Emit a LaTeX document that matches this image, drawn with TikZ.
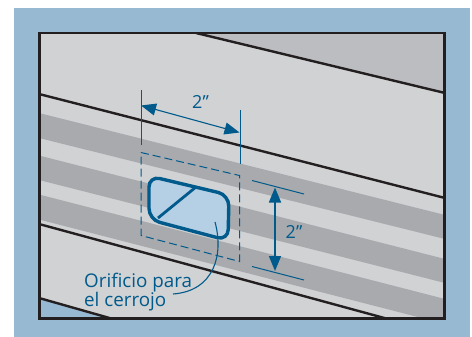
\documentclass[tikz,border=0pt]{standalone}
\usepackage{fontspec}
\setmainfont{Open Sans}
\usetikzlibrary{arrows.meta}
\definecolor{bgblue}{HTML}{98B9D2}
\definecolor{floorgray}{HTML}{D1D2D4}
\definecolor{upgray}{HTML}{BCBDC0}
\definecolor{bandgray}{HTML}{A9AAAD}
\definecolor{ink}{HTML}{231F20}
\definecolor{dimblue}{HTML}{005A8B}
\definecolor{holeblue}{HTML}{B5CFE5}
\tikzset{
  x=1pt,y=-1pt,
  beam/.style={draw=ink,line width=2.4pt},
  band/.style={fill=bandgray,draw=none},
  dimline/.style={draw=dimblue,line width=1pt},
  dimarrow/.style={draw=dimblue,line width=1.1pt,{Triangle[length=15pt,width=12pt]}-{Triangle[length=15pt,width=12pt]}},
  lbl/.style={text=dimblue,inner sep=0pt,font=\fontsize{18.8}{20}\selectfont,align=left},
  dimlbl/.style={text=dimblue,inner sep=0pt,font=\fontsize{18}{20}\selectfont},
}
\begin{document}
\begin{tikzpicture}
\useasboundingbox (0,0) rectangle (472,337);
\fill[white] (0,0) rectangle (472,337);
\fill[bgblue] (14,8) rectangle (470,337);
\fill[floorgray] (39.5,33) rectangle (444.5,318.5);
\begin{scope}
\clip (39.5,33) rectangle (444.5,318.5);
\fill[upgray] (196,33) -- (445,93) -- (445,33) -- cycle;
\fill[band] (39,113) -- (445,215) -- (445,239) -- (39,138) -- cycle;
\fill[band] (39,155.5) -- (445,259) -- (445,283) -- (39,180) -- cycle;
\fill[band] (39,194.5) -- (445,299) -- (445,324) -- (39,219.5) -- cycle;
\fill[floorgray] (39,224.5) -- (392,320) -- (39,320) -- cycle;
\fill[bgblue] (39,298) -- (113,319) -- (39,319) -- cycle;
\draw[beam] (196,33) -- (445,93);
\draw[beam] (39,94) -- (445,198);
\draw[beam] (39,224) -- (388,319);
\draw[beam] (39,298) -- (113,319);
\end{scope}
\draw[draw=ink,line width=2.6pt] (39.5,33) rectangle (444.5,318.5);
% dashed outline
\draw[dimblue,line width=1pt,dash pattern=on 8pt off 4pt] (141,152.5) -- (239.5,175.5) -- (239.5,261.5) -- (141,235.5) -- cycle;
% hole
\draw[fill=holeblue,draw=dimblue,line width=3.4pt,rounded corners=11pt] (149,176) -- (229,195) -- (228,240.5) -- (149,219.5) -- cycle;
\coordinate (diagA) at (158,218);
\coordinate (diagB) at (196,187);
\draw[dimblue,line width=2.8pt] (diagA) -- (diagB);
% left/right extension lines
\coordinate (extLa) at (141,90);
\coordinate (extLb) at (141,145);
\coordinate (extRa) at (240,110);
\coordinate (extRb) at (240,164);
\draw[dimline] (extLa) -- (extLb);
\draw[dimline] (extRa) -- (extRb);
\coordinate (arrL) at (141,105.5);
\coordinate (arrR) at (239.5,132.5);
\draw[dimarrow] (arrL) -- (arrR);
% right dimension
\coordinate (tickUa) at (252,180.5);
\coordinate (tickUb) at (304,194);
\coordinate (tickLa) at (252,266.5);
\coordinate (tickLb) at (304,280);
\draw[dimline] (tickUa) -- (tickUb);
\draw[dimline] (tickLa) -- (tickLb);
\coordinate (arrU) at (275,187.5);
\coordinate (arrD) at (275,271);
\draw[dimarrow,line width=1.6pt] (arrU) -- (arrD);
\node[dimlbl,anchor=base] (dimA) at (200.5,108.5) {2\char"22};
\node[dimlbl,anchor=base] (dimB) at (294,238.5) {2\char"22};
% label
\node[lbl,anchor=base west] (hole1) at (84,287) {Orificio para};
\node[lbl,anchor=base west] (hole2) at (84,306) {el cerrojo};
\coordinate (leadA) at (215,222);
\coordinate (leadB) at (173,294);
\draw[dimblue,line width=1.1pt] (leadA) .. controls (224,255) and (214,291) .. (leadB);
\end{tikzpicture}
\end{document}
